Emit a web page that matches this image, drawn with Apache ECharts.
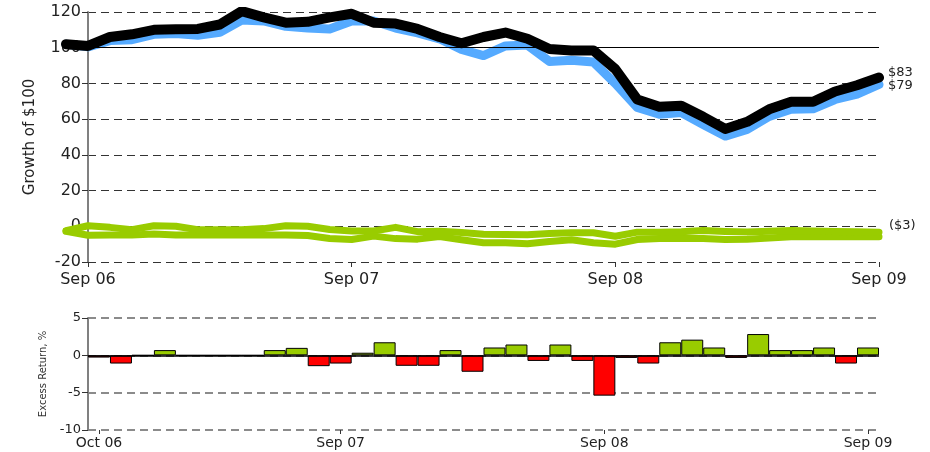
<!DOCTYPE html>
<html>
<head>
<meta charset="utf-8">
<script src="https://cdn.jsdelivr.net/npm/echarts@6/dist/echarts.min.js"></script>
<style>
  html, body { margin: 0; padding: 0; background: #fff; }
  #chart { width: 930px; height: 452px; }
</style>
</head>
<body>
<div id="chart"></div>
<script>
// Month labels, Aug 06 .. Sep 09 (growth series start one month before the axis)
const months = [
  'Aug 06', 'Sep 06', 'Oct 06', 'Nov 06', 'Dec 06', 'Jan 07', 'Feb 07', 'Mar 07', 'Apr 07',
  'May 07', 'Jun 07', 'Jul 07', 'Aug 07', 'Sep 07', 'Oct 07', 'Nov 07', 'Dec 07', 'Jan 08',
  'Feb 08', 'Mar 08', 'Apr 08', 'May 08', 'Jun 08', 'Jul 08', 'Aug 08', 'Sep 08', 'Oct 08',
  'Nov 08', 'Dec 08', 'Jan 09', 'Feb 09', 'Mar 09', 'Apr 09', 'May 09', 'Jun 09', 'Jul 09',
  'Aug 09', 'Sep 09'
];

// Growth of $100 — fund (black) and benchmark (blue)
const fundGrowth = [
  102, 101, 106, 107.5, 110, 110.3, 110.5, 113, 120.5, 117,
  114, 114.5, 117, 119, 114, 113.5, 110.5, 106, 102.5, 106,
  108.5, 105, 99.3, 98.5, 98.5, 88, 71, 67, 67.5, 61.3,
  54.5, 58.5, 65.5, 69.7, 69.7, 75.5, 79, 83.3
];
const benchGrowth = [
  102, 100.5, 104, 104.5, 107.5, 108, 107, 108.6, 115.5, 115,
  112, 111, 110.5, 115, 115, 111, 108.3, 105, 99, 95.6,
  101, 101.5, 92.3, 93, 92, 80, 66.5, 62.8, 63.7, 57,
  50.5, 54.2, 61.5, 65.5, 65.8, 71, 74, 79.4
];

// Cumulative excess growth, drawn as two green traces
const excessUpper = [
  -2.5, 0.3, -0.6, -1.9, 0.3, 0, -1.9, -1.9, -1.9, -1.3,
  0.3, 0, -1.8, -2.7, -2.6, -0.6, -3, -2.8, -3.5, -4.5,
  -4.6, -4.8, -4, -3.6, -3.6, -5.6, -3.3, -3.3, -3, -2.4,
  -2.9, -3.2, -2.8, -2.4, -2.6, -2.9, -3, -3.3
];
const excessLower = [
  -2.8, -5, -4.9, -4.9, -4.3, -4.9, -4.9, -4.9, -4.9, -4.9,
  -4.9, -5.2, -6.8, -7.4, -5.5, -6.9, -7.2, -5.8, -7.5, -9.2,
  -9.2, -9.8, -8.5, -7.5, -9.2, -10, -7.4, -6.8, -6.9, -6.9,
  -7.4, -7.2, -6.5, -5.9, -5.9, -5.9, -5.9, -5.9
];

// Monthly excess return, %, Oct 06 .. Sep 09
const barMonths = months.slice(2);
const excessReturn = [
  -0.3, -1.1, 0, 0.7, 0, 0, 0, 0, 0.7, 1.0,
  -1.45, -1.1, 0.35, 1.75, -1.4, -1.4, 0.7, -2.2, 1.05, 1.45,
  -0.75, 1.45, -0.75, -5.4, -0.35, -1.1, 1.75, 2.1, 1.05, -0.35,
  2.85, 0.7, 0.7, 1.05, -1.1, 1.05
];
const barTickIdx = [0, 11, 23, 35];

const FONT = 'DejaVu Sans';
const TXT = '#222';

// index -1 = Aug 06, 0 = Sep 06, ... 36 = Sep 09
const toPairs = arr => arr.map((v, i) => [i - 1, v]);

// lines live on an overlay grid whose x range starts one month earlier
const lineBase = {
  type: 'line', xAxisIndex: 2, yAxisIndex: 2, symbol: 'none',
  silent: true, animation: false
};

const option = {
  animation: false,
  backgroundColor: '#fff',
  grid: [
    { left: 88, right: 51, top: 12, height: 250 },
    { left: 88, right: 51, top: 318, height: 112 },
    { left: 66, right: 51, top: 12, height: 250 }
  ],
  xAxis: [
    {
      type: 'value', gridIndex: 0, min: 0, max: 36, interval: 12,
      axisLine: { show: false, onZero: false },
      axisTick: { show: true, length: 5, lineStyle: { color: '#333', width: 1 } },
      axisLabel: {
        margin: 10, fontFamily: FONT, fontSize: 16, color: TXT,
        formatter: v => months[v + 1]
      },
      splitLine: { show: false }
    },
    {
      type: 'category', gridIndex: 1, data: barMonths,
      axisLine: { show: false, onZero: false },
      axisTick: {
        show: true, alignWithLabel: true, length: 4,
        interval: i => barTickIdx.includes(i),
        lineStyle: { color: '#333' }
      },
      axisLabel: {
        margin: 6, fontFamily: FONT, fontSize: 14, color: TXT,
        interval: i => barTickIdx.includes(i)
      }
    },
    {
      type: 'value', gridIndex: 2, min: -1, max: 36, show: false,
      axisLine: { onZero: false },
      splitLine: { show: false }
    }
  ],
  yAxis: [
    {
      type: 'value', gridIndex: 0, min: -20, max: 120, interval: 20,
      name: 'Growth of $100', nameLocation: 'middle', nameGap: 50,
      nameTextStyle: { fontFamily: FONT, fontSize: 15, color: TXT },
      axisLine: { show: true, onZero: false, lineStyle: { color: '#808080', width: 2 } },
      axisTick: { show: true, length: 6, lineStyle: { color: '#333' } },
      axisLabel: { margin: 7, fontFamily: FONT, fontSize: 16, color: TXT },
      splitLine: { show: true, lineStyle: { color: '#333', type: [8, 5], width: 1 } }
    },
    {
      type: 'value', gridIndex: 1, min: -10, max: 5, interval: 5,
      name: 'Excess Return, %', nameLocation: 'middle', nameGap: 25,
      nameTextStyle: { fontFamily: FONT, fontSize: 10, color: '#333' },
      axisLine: { show: true, onZero: false, lineStyle: { color: '#808080', width: 2 } },
      axisTick: { show: true, length: 6, lineStyle: { color: '#333' } },
      axisLabel: { margin: 7, fontFamily: FONT, fontSize: 13, color: TXT },
      splitLine: { show: true, lineStyle: { color: '#666', type: [8, 5], width: 1.5 } }
    },
    {
      type: 'value', gridIndex: 2, min: -20, max: 120, show: false,
      axisLine: { onZero: false },
      splitLine: { show: false }
    }
  ],
  series: [
    {
      // solid reference line at $100
      type: 'line', xAxisIndex: 0, yAxisIndex: 0, data: [], silent: true,
      markLine: {
        silent: true, symbol: 'none', label: { show: false },
        lineStyle: { color: '#000', type: 'solid', width: 1 },
        data: [{ yAxis: 100 }]
      }
    },
    {
      ...lineBase, name: 'Excess lower', data: toPairs(excessLower),
      lineStyle: { color: '#99cc00', width: 7, cap: 'round', join: 'round' }
    },
    {
      ...lineBase, name: 'Excess', data: toPairs(excessUpper),
      lineStyle: { color: '#99cc00', width: 7, cap: 'round', join: 'round' },
      endLabel: {
        show: true, distance: 10, offset: [0, -7],
        fontFamily: FONT, fontSize: 13, color: TXT,
        formatter: p => '($' + Math.abs(Math.round(p.value[1])) + ')'
      }
    },
    {
      ...lineBase, name: 'Benchmark', data: toPairs(benchGrowth),
      lineStyle: { color: '#55aaff', width: 9, cap: 'round', join: 'round' },
      endLabel: {
        show: true, distance: 9, offset: [0, 1],
        fontFamily: FONT, fontSize: 13, color: TXT,
        formatter: p => '$' + Math.round(p.value[1])
      }
    },
    {
      ...lineBase, name: 'Fund', data: toPairs(fundGrowth),
      lineStyle: { color: '#000', width: 10, cap: 'round', join: 'round' },
      endLabel: {
        show: true, distance: 9, offset: [0, -5],
        fontFamily: FONT, fontSize: 13, color: TXT,
        formatter: p => '$' + Math.round(p.value[1])
      },
      z: 3
    },
    {
      type: 'bar', xAxisIndex: 1, yAxisIndex: 1, name: 'Excess return',
      data: excessReturn, barCategoryGap: '0%', silent: true,
      itemStyle: {
        borderColor: '#000', borderWidth: 1,
        color: p => (p.value < 0 ? '#ff0000' : '#99cc00')
      },
      markLine: {
        silent: true, symbol: 'none', label: { show: false },
        lineStyle: { color: '#000', type: 'solid', width: 1.5 },
        data: [{ yAxis: 0 }]
      }
    }
  ]
};

const chart = echarts.init(document.getElementById('chart'), null, { renderer: 'canvas' });
chart.setOption(option);
</script>
</body>
</html>
